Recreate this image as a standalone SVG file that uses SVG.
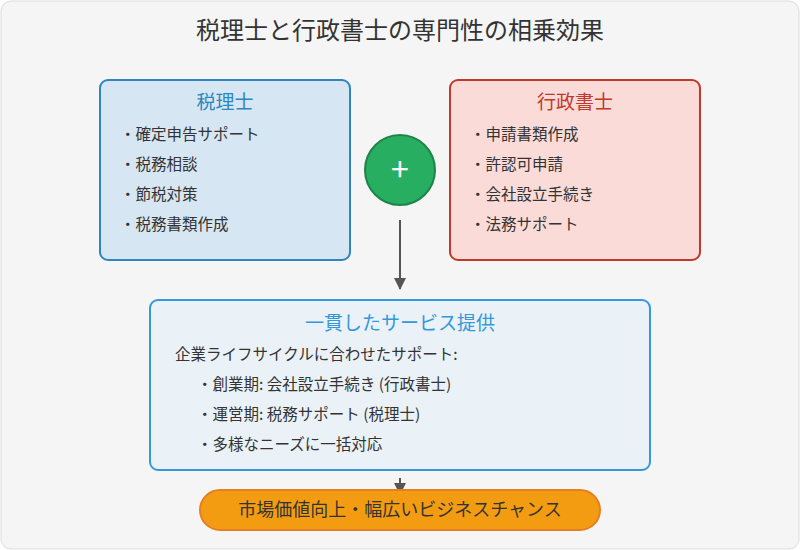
<svg xmlns="http://www.w3.org/2000/svg" width="800" height="550" viewBox="0 0 800 550">
<style>
text{font-family:"Noto Sans CJK JP","Noto Sans",sans-serif;fill:#333}
.h{font-size:19px;text-anchor:middle}
.i{font-size:15.5px}
</style>
<defs><marker id="a" markerWidth="12" markerHeight="12" refX="11" refY="6" orient="auto" markerUnits="userSpaceOnUse"><path d="M0,0L12,6L0,12z" fill="#555"/></marker></defs>
<rect x="1" y="1" width="798" height="548" rx="10" fill="#f5f5f5" stroke="#ddd"/>
<text x="400" y="39" class="h" style="font-size:24px">税理士と行政書士の専門性の相乗効果</text>
<g id="connectors" stroke="#555" stroke-width="2">
<line x1="400" y1="220" x2="400" y2="289" marker-end="url(#a)"/>
<line x1="400" y1="478" x2="400" y2="494" marker-end="url(#a)"/>
</g>
<g id="zeirishi">
<rect x="100" y="80" width="250" height="180" rx="8" fill="#d6e6f2" stroke="#2e86c1" stroke-width="2"/>
<text x="225" y="109" class="h" style="fill:#2e86c1">税理士</text>
<text x="120" y="140" class="i">・確定申告サポート</text>
<text x="120" y="170" class="i">・税務相談</text>
<text x="120" y="200" class="i">・節税対策</text>
<text x="120" y="230" class="i">・税務書類作成</text>
</g>
<g id="gyosei">
<rect x="450" y="80" width="250" height="180" rx="8" fill="#fadbd8" stroke="#c0392b" stroke-width="2"/>
<text x="575" y="109" class="h" style="fill:#c0392b">行政書士</text>
<text x="470" y="140" class="i">・申請書類作成</text>
<text x="470" y="170" class="i">・許認可申請</text>
<text x="470" y="200" class="i">・会社設立手続き</text>
<text x="470" y="230" class="i">・法務サポート</text>
</g>
<g id="plus">
<circle cx="400" cy="170" r="35" fill="#27ae60" stroke="#1e8449" stroke-width="2"/>
<text x="400" y="181" class="h" style="fill:#fff;font-size:32px">+</text>
</g>
<g id="service">
<rect x="150" y="300" width="500" height="170" rx="8" fill="#eaf2f8" stroke="#3498db" stroke-width="2"/>
<text x="400" y="330" class="h" style="fill:#3498db">一貫したサービス提供</text>
<text x="175" y="360" class="i">企業ライフサイクルに合わせたサポート:</text>
<text x="197" y="390" class="i">・創業期: 会社設立手続き (行政書士)</text>
<text x="197" y="420" class="i">・運営期: 税務サポート (税理士)</text>
<text x="197" y="450" class="i">・多様なニーズに一括対応</text>
</g>
<g id="result">
<rect x="200" y="490" width="400" height="40" rx="20" fill="#f39c12" stroke="#e67e22" stroke-width="2"/>
<text x="400" y="516" class="h" style="fill:#333;font-size:18px">市場価値向上・幅広いビジネスチャンス</text>
</g>
</svg>
